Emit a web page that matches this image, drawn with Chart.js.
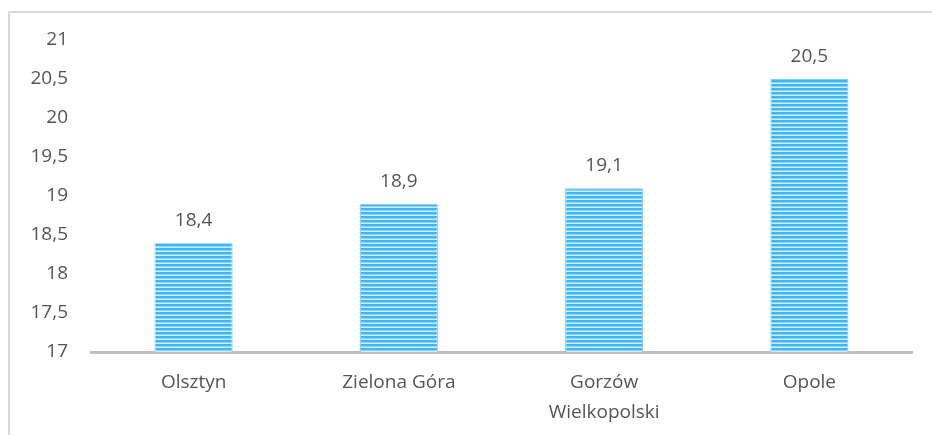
<!DOCTYPE html>
<html>
<head>
<meta charset="utf-8">
<script src="https://cdn.jsdelivr.net/npm/chart.js@4/dist/chart.umd.min.js"></script>
<style>
  html, body { margin: 0; padding: 0; background: #fff; overflow: hidden; }
  #wrap { position: relative; width: 932px; height: 435px; }
  #frame {
    position: absolute; left: 8px; top: 11px; width: 1000px; height: 500px;
    border-left: 2px solid #d9d9d9; border-top: 2px solid #d9d9d9;
  }
  canvas { position: absolute; left: 0; top: 0; }
</style>
</head>
<body>
<div id="wrap">
  <div id="frame"></div>
  <canvas id="chart" width="932" height="435"></canvas>
</div>
<script>
// Data
const cities = ['Olsztyn', 'Zielona Góra', ['Gorzów', 'Wielkopolski'], 'Opole'];
const values = [18.4, 18.9, 19.1, 20.5];
const yMin = 17;
const yMax = 21;
const yStep = 0.5;

const textColor = '#555555';
const fontFamily = 'Open Sans, Lato, sans-serif';

// Striped fill like the original
function stripes() {
  const c = document.createElement('canvas');
  c.width = 4;
  c.height = 4;
  const g = c.getContext('2d');
  g.fillStyle = '#3db7fb';
  g.fillRect(0, 0, 4, 2);
  g.fillStyle = '#8ed3fc';
  g.fillRect(0, 2, 4, 1);
  g.fillStyle = '#cdecfe';
  g.fillRect(0, 3, 4, 1);
  return g.createPattern(c, 'repeat');
}

const comma = v => String(v).replace('.', ',');

// value labels above the bars
const barLabels = {
  id: 'barLabels',
  afterDatasetsDraw(chart) {
    const ctx = chart.ctx;
    ctx.save();
    ctx.font = '19px ' + fontFamily;
    ctx.fillStyle = textColor;
    ctx.textAlign = 'center';
    ctx.textBaseline = 'alphabetic';
    chart.getDatasetMeta(0).data.forEach((bar, i) => {
      ctx.fillText(comma(values[i]), bar.x, bar.y - 17);
    });
    ctx.restore();
  }
};

const ctx = document.getElementById('chart');

new Chart(ctx, {
  type: 'bar',
  data: {
    labels: cities,
    datasets: [{
      data: values,
      backgroundColor: stripes(),
      borderColor: '#7fcdf7',
      borderWidth: 1,
      categoryPercentage: 1,
      barPercentage: 0.38
    }]
  },
  options: {
    responsive: false,
    animation: false,
    layout: {
      padding: { left: 0, right: 20, top: 40, bottom: 0 }
    },
    plugins: {
      legend: { display: false },
      tooltip: { enabled: false }
    },
    scales: {
      x: {
        grid: { display: false, drawTicks: false },
        border: { display: true, color: '#bfbfbf', width: 3 },
        ticks: {
          color: textColor,
          font: { family: fontFamily, size: 19, lineHeight: 1.55 },
          padding: 16,
          maxRotation: 0
        },
        afterFit(scale) { scale.height = 83; }
      },
      y: {
        min: yMin,
        max: yMax,
        grid: { display: false, drawTicks: false },
        border: { display: false },
        ticks: {
          stepSize: yStep,
          color: textColor,
          font: { family: fontFamily, size: 19 },
          padding: 23,
          callback: v => comma(v)
        },
        afterFit(scale) { scale.width = 91; }
      }
    }
  },
  plugins: [barLabels]
});
</script>
</body>
</html>
